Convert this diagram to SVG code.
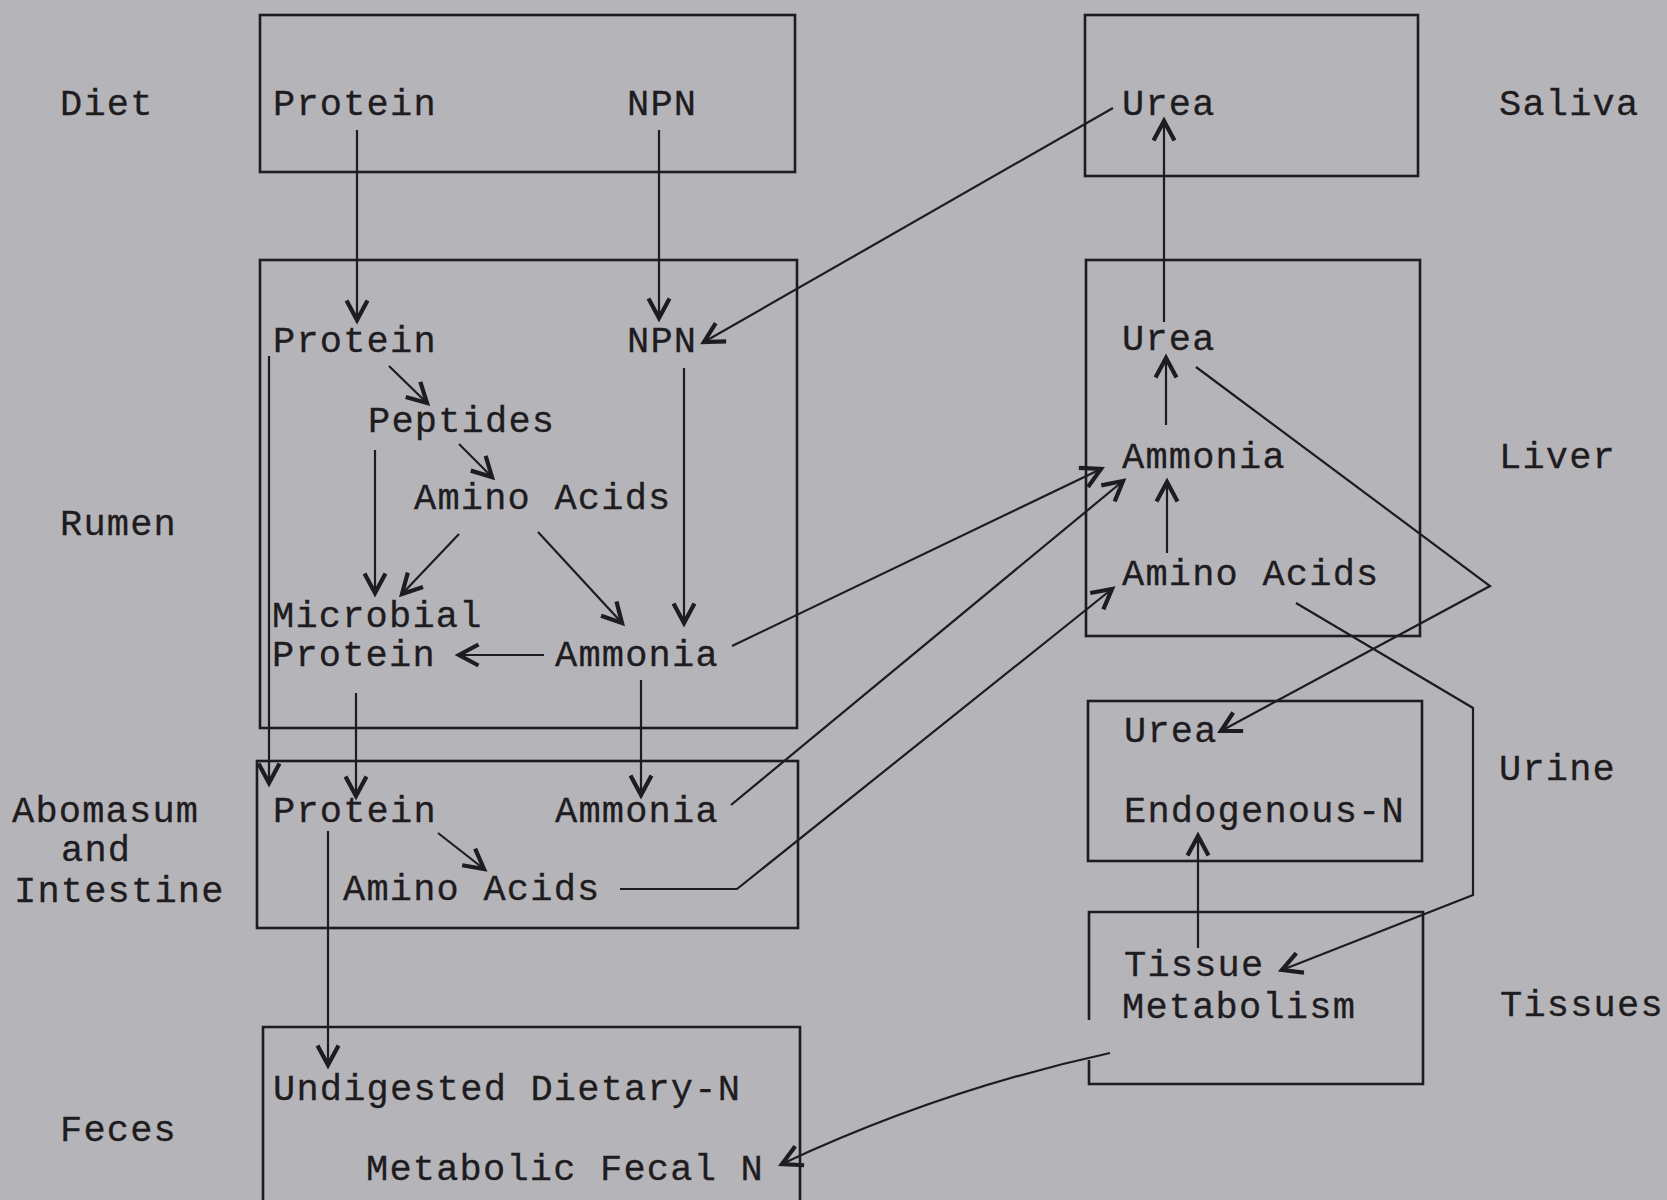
<svg xmlns="http://www.w3.org/2000/svg" width="1667" height="1200" viewBox="0 0 1667 1200">
<defs>
<style>
.bg{fill:#b5b4b9}
.box{fill:none;stroke:#1e1c20;stroke-width:2.6}
text{font-family:"Liberation Mono","Courier New",monospace;font-size:37px;fill:#1e1c20;letter-spacing:1.2px;stroke:#1e1c20;stroke-width:0.3}
.c{fill:none;stroke:#1e1c20;stroke-width:2.2;marker-end:url(#ah)}
</style>
<marker id="ah" markerUnits="userSpaceOnUse" markerWidth="30" markerHeight="30" refX="0" refY="0" viewBox="-16 -10 20 20" orient="auto">
<path d="M-13 -7 L0 0 L-13 7" fill="none" stroke="#1e1c20" stroke-width="2.8"/>
</marker>
</defs>
<rect class="bg" x="0" y="0" width="1667" height="1200"/>

<g id="labels">
<text x="60" y="115">Diet</text>
<text x="60" y="535">Rumen</text>
<text x="12" y="822">Abomasum</text>
<text x="61" y="861">and</text>
<text x="14" y="902">Intestine</text>
<text x="60" y="1141">Feces</text>
<text x="1499" y="115">Saliva</text>
<text x="1499" y="468">Liver</text>
<text x="1499" y="780">Urine</text>
<text x="1500" y="1016">Tissues</text>
</g>

<g id="diet">
<rect class="box" x="260" y="15" width="535" height="157"/>
<text x="273" y="115">Protein</text>
<text x="627" y="115">NPN</text>
</g>

<g id="rumen">
<rect class="box" x="260" y="260" width="537" height="468"/>
<text x="273" y="352">Protein</text>
<text x="627" y="352">NPN</text>
<text x="368" y="432">Peptides</text>
<text x="414" y="509">Amino Acids</text>
<text x="272" y="627">Microbial</text>
<text x="272" y="666">Protein</text>
<text x="555" y="666">Ammonia</text>
</g>

<g id="abomasum">
<rect class="box" x="257" y="761" width="541" height="167"/>
<text x="273" y="822">Protein</text>
<text x="555" y="822">Ammonia</text>
<text x="343" y="900">Amino Acids</text>
</g>

<g id="feces">
<path class="box" d="M263 1210 V1027 H800 V1210"/>
<text x="273" y="1100">Undigested Dietary-N</text>
<text x="366" y="1180">Metabolic Fecal N</text>
</g>

<g id="saliva">
<rect class="box" x="1085" y="15" width="333" height="161"/>
<text x="1122" y="115">Urea</text>
</g>

<g id="liver">
<rect class="box" x="1086" y="260" width="334" height="376"/>
<text x="1122" y="350">Urea</text>
<text x="1122" y="468">Ammonia</text>
<text x="1122" y="585">Amino Acids</text>
</g>

<g id="urine">
<rect class="box" x="1088" y="701" width="334" height="160"/>
<text x="1124" y="742">Urea</text>
<text x="1124" y="822">Endogenous-N</text>
</g>

<g id="tissues">
<path class="box" d="M1089 1020 V912 H1423 V1084 H1089 V1060"/>
<text x="1124" y="976">Tissue</text>
<text x="1122" y="1018">Metabolism</text>
</g>

<g id="connectors">
<path class="c" d="M357 130 V320"/>
<path class="c" d="M659 130 V318"/>
<path class="c" d="M1113 108 L704 342"/>
<path class="c" d="M1164 322 V121"/>
<path class="c" d="M389 366 L427 403"/>
<path class="c" d="M459 444 L492 477"/>
<path class="c" d="M375 450 V593"/>
<path class="c" d="M459 534 L402 594"/>
<path class="c" d="M538 532 L622 623"/>
<path class="c" d="M684 368 V623"/>
<path class="c" d="M544 655 H459"/>
<path class="c" d="M732 646 L1101 469"/>
<path class="c" d="M356 693 V796"/>
<path class="c" d="M269 356 V783"/>
<path class="c" d="M641 680 V795"/>
<path class="c" d="M731 805 L1123 481"/>
<path class="c" d="M438 833 L484 869"/>
<path class="c" d="M620 889 H737 L1112 589"/>
<path class="c" d="M328 831 V1065"/>
<path class="c" d="M1167 553 V482"/>
<path class="c" d="M1166 425 V358"/>
<path class="c" d="M1196 367 L1490 586 L1221 731"/>
<path class="c" d="M1296 603 L1473 708 V895 L1282 970"/>
<path class="c" d="M1198 948 V836"/>
<path class="c" d="M1110 1053 Q940 1090 782 1164"/>
</g>
</svg>
